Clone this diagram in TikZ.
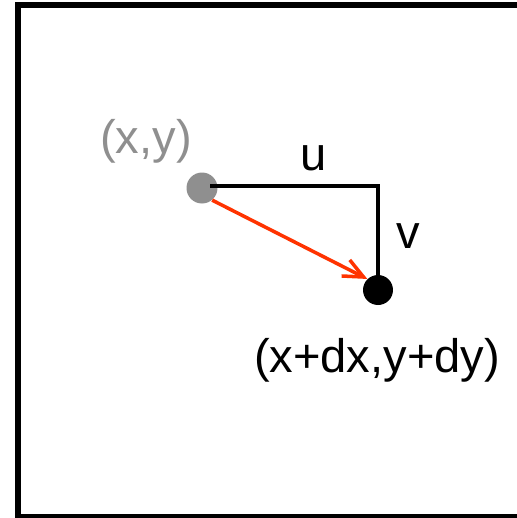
\documentclass[tikz,border=0pt]{standalone}
\usepackage{fontspec}
\setmainfont{Liberation Sans}
\usetikzlibrary{arrows.meta}
\definecolor{flowred}{RGB}{255,51,0}
\definecolor{dotgray}{RGB}{143,143,143}

\begin{document}
\begin{tikzpicture}[
  x=0.02cm, y=-0.02cm,
  lbl/.style={anchor=base,inner sep=0pt,font=\fontsize{26.8}{30}\selectfont},
  dot/.style={circle,inner sep=0pt,minimum size=0.62cm},
  leg/.style={line width=2.3pt},
  flow/.style={line width=2pt,draw=flowred,-{Straight Barb[length=4mm,width=3.6mm]}}
]
  \useasboundingbox (0,0) rectangle (517,518);
  \clip (0,0) rectangle (517,518);
  \fill[white] (-5,-5) rectangle (525,525);
  % frame, its right side lies outside the page
  \draw[line width=3.1pt] (530,5) -- (18,5) -- (18,516.5) -- (530,516.5);

  % start and end point
  \node[dot,fill=dotgray] (pxy) at (202,188) {};
  \node[dot,fill=black,minimum size=0.6cm] (pend) at (378,290) {};
  \coordinate (ustart) at (210,186);
  \draw[leg] (ustart) -| (pend);
  \draw[flow] (pxy.-50) -- (pend.134);

  \node[lbl,text=dotgray] (lxy) at (146,153) {(x,y)};
  \node[lbl] (lu) at (314,170) {u};
  \node[lbl] (lv) at (408,248) {v};
  \node[lbl] (lend) at (377,372) {(x+dx,y+dy)};
\end{tikzpicture}
\end{document}
